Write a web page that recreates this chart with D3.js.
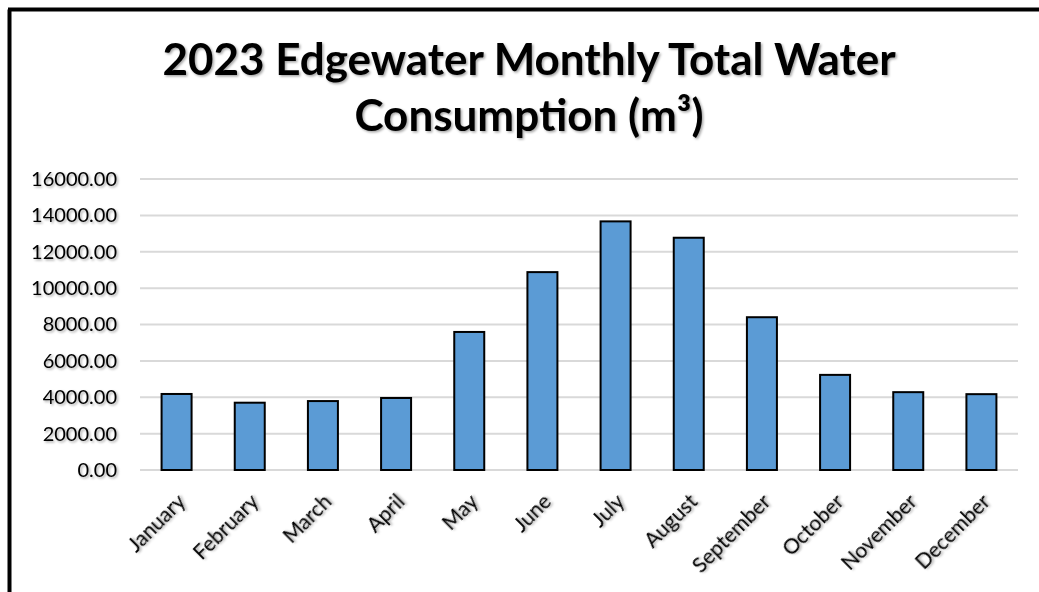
<!DOCTYPE html>
<html>
<head>
<meta charset="utf-8">
<script src="https://cdn.jsdelivr.net/npm/d3@7"></script>
<style>
body { margin: 0; background: #fff; }
svg { display: block; }
</style>
</head>
<body>
<div class="chart"></div>
<script>
const months = ['January','February','March','April','May','June','July','August','September','October','November','December'];
const consumption = [4180, 3700, 3790, 3960, 7590, 10880, 13670, 12770, 8400, 5230, 4280, 4170];
const yTicks = [0, 2000, 4000, 6000, 8000, 10000, 12000, 14000, 16000];
const titleLines = ['2023 Edgewater Monthly Total Water', 'Consumption (m\u00B3)'];

const width = 1039;
const height = 592;
const margin = {top: 179, right: 21, bottom: 122, left: 140};

const svg = d3.select('.chart')
    .append('svg')
    .attr('width', width)
    .attr('height', height)

// text shadow like the office chart
const defs = svg.append('defs')
const f = defs.append('filter').attr('id','shadow').attr('x','-10%').attr('y','-10%').attr('width','120%').attr('height','130%')
f.append('feDropShadow').attr('dx',1.5).attr('dy',1.5).attr('stdDeviation',1).attr('flood-color','#000').attr('flood-opacity',0.35)

// frame (only left and top edges visible)
svg.append('line').attr('x1',9.5).attr('x2',9.5).attr('y1',9.5).attr('y2',height).attr('stroke','#000').attr('stroke-width',4)
svg.append('line').attr('x1',8).attr('x2',width).attr('y1',9.5).attr('y2',9.5).attr('stroke','#000').attr('stroke-width',4)

const x = d3.scaleBand()
    .domain(months)
    .range([margin.left, width - margin.right])
    .paddingInner(0.59)
    .paddingOuter(0.295)

const y = d3.scaleLinear()
    .domain([0, 16000])
    .range([height - margin.bottom, margin.top])

// gridlines
svg.append('g')
    .selectAll('line')
    .data(yTicks)
    .enter()
    .append('line')
    .attr('x1', margin.left)
    .attr('x2', width - margin.right)
    .attr('y1', d => y(d))
    .attr('y2', d => y(d))
    .attr('stroke', '#d9d9d9')
    .attr('stroke-width', 2)

// y axis labels
const yAxis = d3.axisLeft(y).tickValues(yTicks).tickFormat(d3.format('.2f')).tickSize(0).tickPadding(23)
const gy = svg.append('g')
    .attr('transform', `translate(${margin.left},0)`)
    .call(yAxis)
gy.select('.domain').remove()
gy.selectAll('text')
    .attr('font-family', 'Lato, "Open Sans", sans-serif')
    .attr('font-size', 20)
    .attr('fill', '#000')
    .attr('filter', 'url(#shadow)')

// bars
svg.selectAll('rect.bar')
    .data(months)
    .enter()
    .append('rect')
    .attr('class', 'bar')
    .attr('x', d => x(d))
    .attr('y', (d, i) => y(consumption[i]))
    .attr('width', x.bandwidth())
    .attr('height', (d, i) => y(0) - y(consumption[i]))
    .attr('fill', '#5b9bd5')
    .attr('stroke', '#000')
    .attr('stroke-width', 2)

// x axis labels
const xAxis = d3.axisBottom(x).tickSize(0).tickPadding(0)
const gx = svg.append('g')
    .attr('transform', `translate(0,${y(0)})`)
    .call(xAxis)
gx.select('.domain').remove()
gx.selectAll('text')
    .attr('font-family', 'Lato, "Open Sans", sans-serif')
    .attr('font-size', 21)
    .attr('fill', '#000')
    .attr('text-anchor', 'end')
    .attr('dy', 0)
    .attr('transform', 'translate(10,33) rotate(-45)')
    .attr('filter', 'url(#shadow)')

// title
svg.append('g')
    .selectAll('text')
    .data(titleLines)
    .enter()
    .append('text')
    .text(d => d)
    .attr('x', 529)
    .attr('y', (d, i) => 75 + i * 56)
    .attr('text-anchor', 'middle')
    .attr('font-family', 'Lato, "Open Sans", sans-serif')
    .attr('font-weight', 'bold')
    .attr('font-size', 44)
    .attr('fill', '#000')
    .attr('filter', 'url(#shadow)')
</script>
</body>
</html>
